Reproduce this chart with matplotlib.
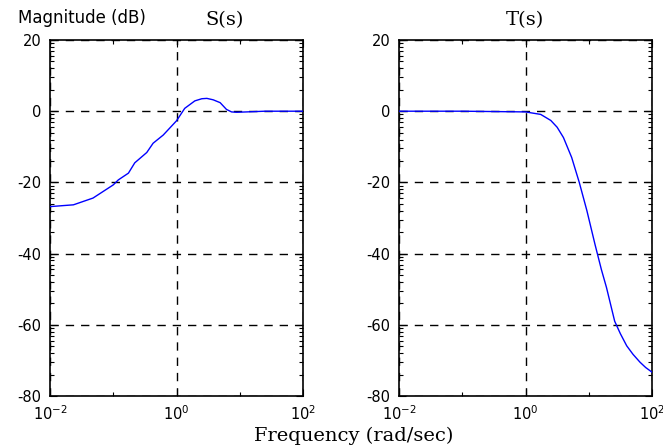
import numpy as np
import matplotlib
matplotlib.use("Agg")
import matplotlib.pyplot as plt
from matplotlib.ticker import FixedLocator, NullFormatter

# |S(jw)| in dB (log10 of w, dB)
s_logw = [-2.0, -1.63, -1.32, -1.0, -0.92, -0.76, -0.66, -0.47, -0.37, -0.21,
          0.0, 0.13, 0.29, 0.40, 0.48, 0.58, 0.69, 0.79, 0.87, 0.95, 1.11, 1.4, 2.0]
s_db = [-26.8, -26.3, -24.4, -20.7, -19.3, -17.4, -14.5, -11.6, -9.0, -6.7,
        -2.7, 0.8, 2.9, 3.5, 3.6, 3.2, 2.4, 0.5, -0.2, -0.3, -0.2, 0.0, 0.0]

# |T(jw)| in dB
t_logw = [-2.0, -1.0, 0.0, 0.24, 0.40, 0.50, 0.60, 0.73, 0.85, 0.97, 1.10,
          1.20, 1.28, 1.41, 1.50, 1.60, 1.70, 1.81, 1.90, 2.0]
t_db = [0.0, 0.0, -0.2, -0.9, -2.6, -4.5, -7.4, -13.0, -20.0, -27.9, -37.5,
        -44.5, -49.5, -59.0, -62.5, -65.9, -68.3, -70.5, -72.0, -73.3]

titles = ["S(s)", "T(s)"]
y_major = [-80, -60, -40, -20, 0, 20]
x_labelled = [1e-2, 1e0, 1e2]
x_other = [1e-1, 1e1]

# odd matlab minor ticks: dense toward the top of each 20 dB band
y_minor = [b + 20 * np.log10(m) for b in y_major[:-1] for m in range(2, 10)]

fig = plt.figure(figsize=(6.63, 4.46), dpi=100)
axes_pos = [[50 / 663, 50 / 446, 253 / 663, 356 / 446],
            [399 / 663, 50 / 446, 253 / 663, 356 / 446]]
title_x = [225, 525]
curves = [(s_logw, s_db), (t_logw, t_db)]

for i, (pos, (lw, db)) in enumerate(zip(axes_pos, curves)):
    ax = fig.add_axes(pos)
    ax.semilogx(10 ** np.array(lw), db, color="#0000ff", linewidth=1.0, zorder=3)
    ax.set_xlim(1e-2, 1e2)
    ax.set_ylim(-80, 20)

    ax.xaxis.set_major_locator(FixedLocator(x_labelled))
    ax.xaxis.set_minor_locator(FixedLocator(x_other))
    ax.xaxis.set_minor_formatter(NullFormatter())
    ax.set_xticklabels([r"$\mathregular{10^{-2}}$", r"$\mathregular{10^{0}}$",
                        r"$\mathregular{10^{2}}$"])
    ax.yaxis.set_major_locator(FixedLocator(y_major))
    ax.yaxis.set_minor_locator(FixedLocator(y_minor))
    ax.set_yticklabels([str(v) for v in y_major])

    ax.tick_params(which="both", direction="in", top=True, right=True,
                   labelsize=10.5, width=0.8, colors="black")
    ax.tick_params(which="major", length=5, pad=6)
    ax.tick_params(which="minor", length=3)
    for lab in ax.get_xticklabels() + ax.get_yticklabels():
        lab.set_fontfamily("DejaVu Sans")

    ax.grid(True, which="major", color="black", linestyle=(0, (6, 5)),
            linewidth=1.0)
    for sp in ax.spines.values():
        sp.set_linewidth(1.2)

    fig.text(title_x[i] / 663, 1 - 20 / 446, titles[i], ha="center",
             va="center", fontsize=14, family="DejaVu Serif")

fig.text(18 / 663, 1 - 18 / 446, "Magnitude (dB)", ha="left", va="center",
         fontsize=12, family="DejaVu Sans")
fig.text(354 / 663, 1 - 436 / 446, "Frequency (rad/sec)", ha="center",
         va="center", fontsize=14, family="DejaVu Serif")

fig.savefig("out.png", dpi=100)
